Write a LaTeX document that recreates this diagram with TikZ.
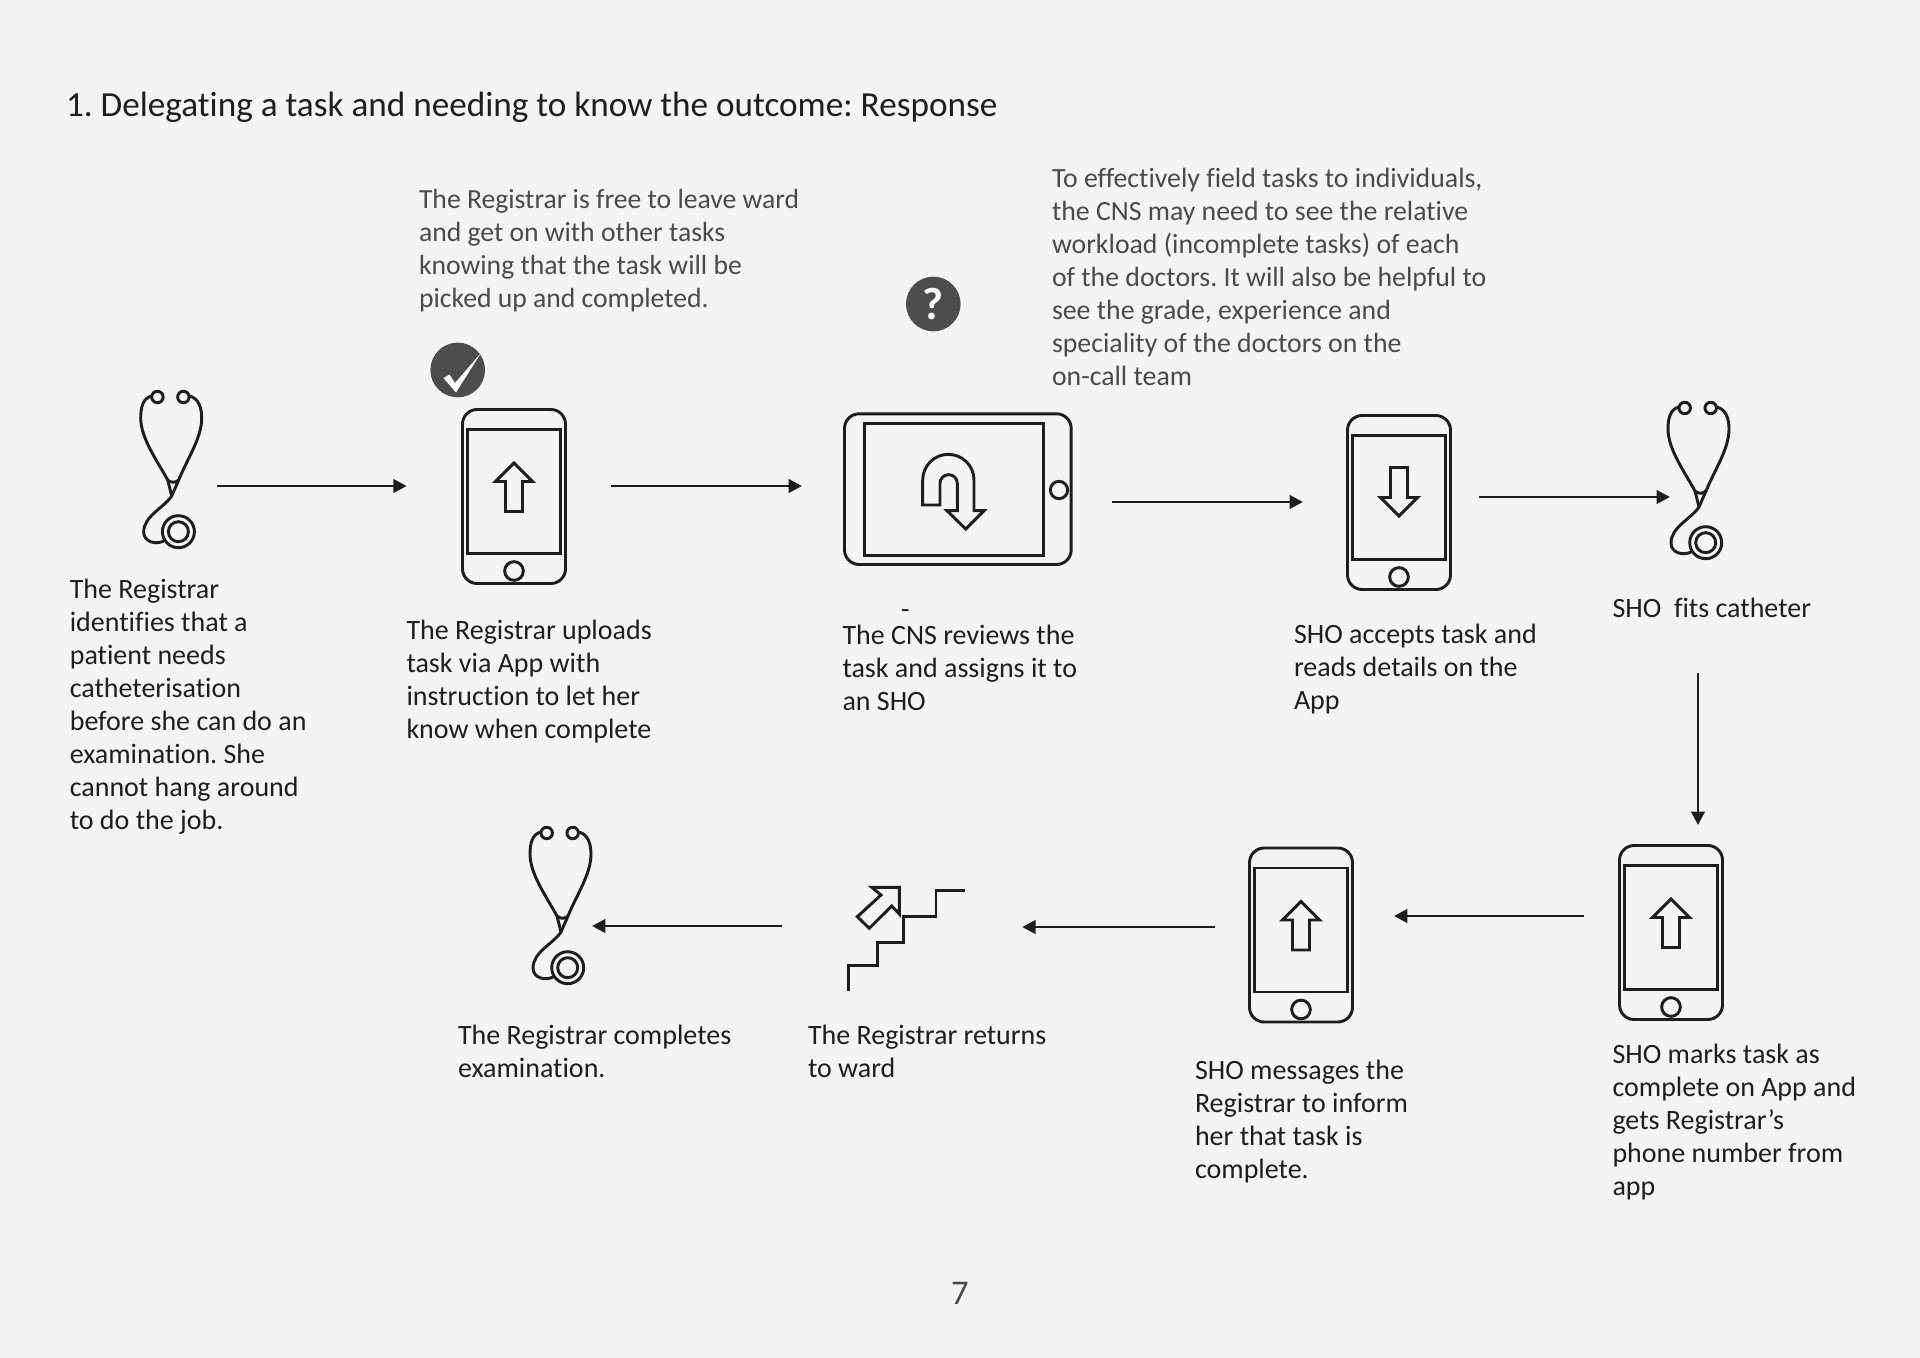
\documentclass[tikz,border=0pt]{standalone}
\usepackage{fontspec}
\setmainfont[Ligatures=NoCommon]{Carlito}
\usetikzlibrary{arrows.meta,calc}
\definecolor{bgc}{HTML}{F4F4F4}
\definecolor{ink}{HTML}{1E1E1E}
\definecolor{note}{HTML}{4A4A4A}
\definecolor{badge}{HTML}{4D4D4D}
\tikzset{
  px/.style={x=0.75pt,y=-0.75pt},
  icon/.style={draw=ink,line width=2.2pt,fill=none,line join=miter},
  iconbox/.style={draw=none,fill=none,inner sep=0pt,outer sep=0pt},
  conn/.style={draw=ink,line width=2.2pt,-{Triangle[length=10pt,width=10pt]}},
  txt/.style={anchor=north west,inner sep=0pt,outer sep=0pt,align=left,text=ink,font=\frenchspacing\fontsize{21}{24.75}\selectfont},
  notetxt/.style={txt,text=note},
  badgedisc/.style={circle,fill=badge,draw=none,minimum size=41pt,inner sep=0pt},
  phoneframe/.pic={
    \draw[icon,rounded corners=11pt] (-51.5,-87) rectangle (51.5,87);
    \draw[icon] (-46.5,-67) rectangle (46.5,57);
    \draw[icon] (0,74.5) circle (7pt);
  },
  phoneup/.pic={
    \pic (-f) at (0,0) {phoneframe};
    \node[iconbox,minimum width=78pt,minimum height=131.25pt] (-box) at (0,0) {};
    \draw[icon] (0,-33.5) -- (18.5,-15) -- (8.5,-15) -- (8.5,15) -- (-8.5,15) -- (-8.5,-15) -- (-18.5,-15) -- cycle;
  },
  phonedown/.pic={
    \pic (-f) at (0,0) {phoneframe};
    \node[iconbox,minimum width=78pt,minimum height=131.25pt] (-box) at (0,0) {};
    \draw[icon] (0,13.5) -- (18.5,-5) -- (8.5,-5) -- (8.5,-35) -- (-8.5,-35) -- (-8.5,-5) -- (-18.5,-5) -- cycle;
  },
  steth/.pic={
    \node[iconbox,minimum width=42pt,minimum height=120pt] (-box) at (-4,-10) {};
    \draw[icon] (-14.3,-83) circle (4.3pt);
    \draw[icon] (11.7,-83) circle (4.3pt);
    \draw[icon,line cap=round] (-20,-84) .. controls (-29,-82) and (-31,-72) .. (-31,-62) .. controls (-31,-42) and (-15,-20) .. (-4,0);
    \draw[icon,line cap=round] (17.5,-84) .. controls (27,-82) and (30,-72) .. (30,-62) .. controls (30,-42) and (16,-22) .. (7,0);
    \draw[icon,line cap=round,line join=round] (-4,0) .. controls (-1,3) and (4,3) .. (7,0) -- (0,16) .. controls (-8,28) and (-28,36) .. (-28,52) .. controls (-28,62) and (-16,65) .. (-8,61);
    \draw[icon] (-4,0) -- (0,16);
    \draw[icon] (6.7,51.7) circle (12pt);
    \draw[icon] (6.7,51.7) circle (7.5pt);
  },
}
\begin{document}
\begin{tikzpicture}[px]
\useasboundingbox (0,0) rectangle (1920,1358);
\fill[bgc] (0,0) rectangle (1920,1358);

% title and page number
\node[txt,font=\frenchspacing\fontsize{26.4}{32}\selectfont] (title) at (66,92.5) {1. Delegating a task and needing to know the outcome: Response};
\node[anchor=center,text=note,font=\fontsize{26}{30}\selectfont] (pageno) at (960,1293) {7};

% icons
\pic (s1) at (171.7,480) {steth};
\pic (p1) at (514,496.5) {phoneup};
\node[iconbox,minimum width=171pt,minimum height=114pt] (tab-box) at (958,489) {};
\draw[icon,rounded corners=11pt] (844.5,413.8) rectangle (1071.2,564.5);
\draw[icon] (864.3,423.8) rectangle (1043.3,555.5);
\draw[icon] (1059,490) circle (6.5pt);
\draw[icon] (922.7,505) -- (940,505) -- (940,483.3) arc[start angle=180,end angle=0,x radius=8.65,y radius=-8.65] -- (957.3,510.7) -- (947,510.7) -- (965.7,529) -- (984,510.7) -- (974,510.7) -- (974,480) arc[start angle=0,end angle=180,x radius=25.65,y radius=-25.65] -- cycle;
\pic (p2) at (1399,502.5) {phonedown};
\pic (s2) at (1699,491) {steth};
\pic (p3) at (1671,932.5) {phoneup};
\pic (p4) at (1301,935) {phoneup};
\node[iconbox,minimum width=88pt,minimum height=78pt] (st-box) at (906.5,939) {};
\draw[icon] (848.3,990.7) -- (848.3,965.7) -- (877.3,965.7) -- (877.3,942.3) -- (903.3,942.3) -- (903.3,916.7) -- (936,916.7) -- (936,890.7) -- (965,890.7);
\draw[icon] (899.3,887.3) -- (871.7,887.3) -- (881,895) -- (857.3,916.7) -- (869.3,928.3) -- (891.7,906) -- (899.3,914) -- cycle;
\pic (s3) at (561,916) {steth};

% badges
\node[badgedisc] (okb) at (457.7,370) {};
\fill[white] (443.5,378) -- (449.5,374.5) -- (455,383) -- (481,353) -- (456,392.5) -- cycle;
\node[badgedisc,text=white,font=\fontsize{34}{34}\bfseries\selectfont] (qb) at (933.3,304) {?};

% connectors
\draw[conn] ($(s1-box.east)+(21,16)$) -- ($(p1-box.west)+(-55.3,-10.5)$);
\draw[conn] ($(p1-box.east)+(45,-10.5)$) -- ($(tab-box.west)+(-42,-3)$);
\draw[conn] ($(tab-box.east)+(40,13)$) -- ($(p2-box.west)+(-44,-0.5)$);
\draw[conn] ($(p2-box.east)+(28,-5.5)$) -- ($(s2-box.west)+(3,16)$);
\draw[conn] ($(s2-box.south)+(3,112)$) -- ($(p3-box.north)+(27,-20)$);
\draw[conn] ($(p3-box.west)+(-35,-16.5)$) -- ($(p4-box.east)+(41,-19)$);
\draw[conn] ($(p4-box.west)+(-34,-8)$) -- ($(st-box.east)+(57,-12)$);
\draw[conn] ($(st-box.west)+(-66,-13)$) -- ($(s3-box.east)+(7,20)$);

% captions
\node[txt] (t1) at (69.8,579.5) {The Registrar\\identifies that a\\patient needs\\catheterisation\\before she can do an\\examination. She\\cannot hang around\\to do the job.};
\node[txt] (t2) at (406.5,620) {The Registrar uploads\\task via App with\\instruction to let her\\know when complete};
\node[txt] (t3) at (842.5,625.5) {The CNS reviews the\\task and assigns it to\\an SHO};
\node[txt] (dash) at (901,610) {-};
\node[txt] (t4) at (1294,624.5) {SHO accepts task and\\reads details on the\\App};
\node[txt] (t5) at (1612.5,598) {SHO\ \ fits catheter};
\node[txt] (t6) at (1612.5,1044.5) {SHO marks task as\\complete on App and\\gets Registrar’s\\phone number from\\app};
\node[txt] (t7) at (1195,1060.5) {SHO messages the\\Registrar to inform\\her that task is\\complete.};
\node[txt] (t8) at (808,1025.5) {The Registrar returns\\to ward};
\node[txt] (t9) at (458,1025.5) {The Registrar completes\\examination.};
\node[notetxt,font=\frenchspacing\fontsize{20.75}{24.75}\selectfont] (n1) at (419,189) {The Registrar is free to leave ward\\and get on with other tasks\\knowing that the task will be\\picked up and completed.};
\node[notetxt,font=\frenchspacing\fontsize{20.85}{24.75}\selectfont] (n2) at (1052,168) {To effectively field tasks to individuals,\\the CNS may need to see the relative\\workload (incomplete tasks) of each\\of the doctors. It will also be helpful to\\see the grade, experience and\\speciality of the doctors on the\\on-call team};
\end{tikzpicture}
\end{document}
